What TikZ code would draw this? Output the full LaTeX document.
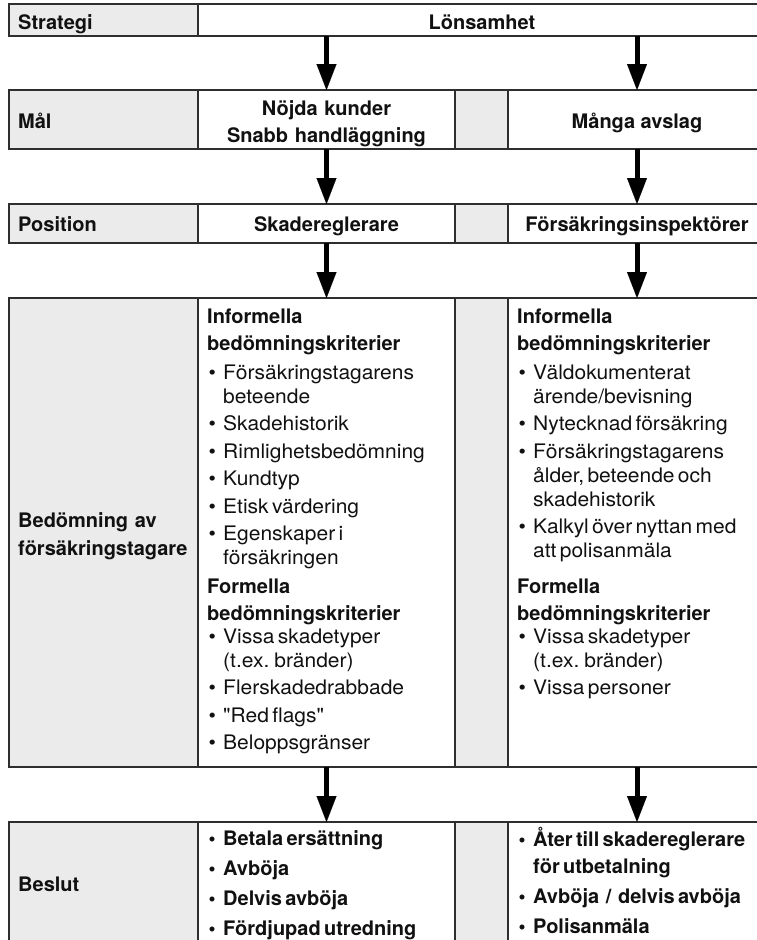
\documentclass[tikz,border=0pt]{standalone}
\usepackage{fontspec}
\setmainfont{TeX Gyre Heros}[Ligatures=TeXOff, UprightFeatures={FakeStretch=1.05}]
\usetikzlibrary{arrows.meta}
\definecolor{cellgray}{HTML}{EBEBEB}
\definecolor{linegray}{HTML}{2E2E2E}
\definecolor{txt}{HTML}{111111}
\newcommand{\bitem}[1]{\hangindent=16pt\hangafter=1\noindent\makebox[16pt][l]{\hspace{1.5pt}\textbullet}#1\par}
\newcommand{\blockstart}[2]{\setlength{\parskip}{#2}\fontsize{20}{#1}\selectfont\raggedright}
\tikzset{
  cell/.style={draw=linegray, line width=1.3pt, fill=white, inner sep=0pt, outer sep=0pt},
  graycell/.style={cell, fill=cellgray},
  lab/.style={inner sep=0pt, text=txt, font=\fontsize{20}{24}\selectfont\bfseries},
  block/.style={inner sep=0pt, text=txt, text width=245pt, anchor=base west},
  flow/.style={draw=black, line width=5pt, -{Triangle[width=20pt,length=26pt,line width=0.1pt]}}
}
\begin{document}
\begin{tikzpicture}[x=1pt,y=-1pt]
\useasboundingbox (0,0) rectangle (757,940);
\clip (0,0) rectangle (757,940);
% ---- Strategi
\node[graycell, minimum width=189pt, minimum height=32pt] (strat-l) at (103.5,20) {};
\node[cell, minimum width=568pt, minimum height=32pt] (strat-r) at (482,20) {};
% ---- Mal
\node[graycell, minimum width=189pt, minimum height=59pt] (mal-l) at (103.5,119.5) {};
\node[cell, minimum width=257pt, minimum height=59pt] (mal-m) at (326.5,119.5) {};
\node[graycell, minimum width=53pt, minimum height=59pt] (mal-g) at (481.5,119.5) {};
\node[cell, minimum width=258pt, minimum height=59pt] (mal-r) at (637,119.5) {};
% ---- Position
\node[graycell, minimum width=189pt, minimum height=39pt] (pos-l) at (103.5,223.5) {};
\node[cell, minimum width=257pt, minimum height=39pt] (pos-m) at (326.5,223.5) {};
\node[graycell, minimum width=53pt, minimum height=39pt] (pos-g) at (481.5,223.5) {};
\node[cell, minimum width=258pt, minimum height=39pt] (pos-r) at (637,223.5) {};
% ---- Bedomning
\node[graycell, minimum width=189pt, minimum height=469pt] (bed-l) at (103.5,532.5) {};
\node[cell, minimum width=257pt, minimum height=469pt] (bed-m) at (326.5,532.5) {};
\node[graycell, minimum width=53pt, minimum height=469pt] (bed-g) at (481.5,532.5) {};
\node[cell, minimum width=258pt, minimum height=469pt] (bed-r) at (637,532.5) {};
% ---- Beslut
\node[graycell, minimum width=189pt, minimum height=124pt] (bes-l) at (103.5,884) {};
\node[cell, minimum width=257pt, minimum height=124pt] (bes-m) at (326.5,884) {};
\node[graycell, minimum width=53pt, minimum height=124pt] (bes-g) at (481.5,884) {};
\node[cell, minimum width=258pt, minimum height=124pt] (bes-r) at (637,884) {};

% ---- arrows
\draw[flow] (mal-m.north |- strat-r.south) -- (mal-m.north);
\draw[flow] (mal-r.north |- strat-r.south) -- (mal-r.north);
\draw[flow] (mal-m.south) -- (pos-m.north);
\draw[flow] (mal-r.south) -- (pos-r.north);
\draw[flow] (pos-m.south) -- (bed-m.north);
\draw[flow] (pos-r.south) -- (bed-r.north);
\draw[flow] (bed-m.south) -- (bes-m.north);
\draw[flow] (bed-r.south) -- (bes-r.north);

% ---- texts
\node[lab, anchor=base west] (t-strat) at (18,29) {Strategi};
\node[lab, anchor=base] (t-lons) at (482,29) {Lönsamhet};
\node[lab, anchor=base west] (t-mal) at (18,128) {Mål};
\node[lab, anchor=base, text width=257pt, align=center, font=\fontsize{20}{27}\selectfont\bfseries] (t-nojda) at (326.5,115) {Nöjda kunder\\Snabb handläggning};
\node[lab, anchor=base] (t-manga) at (637,128) {Många avslag};
\node[lab, anchor=base west] (t-pos) at (18,231.5) {Position};
\node[lab, anchor=base] (t-skade) at (326.5,231.5) {Skadereglerare};
\node[lab, anchor=base] (t-insp) at (637,231.5) {Försäkringsinspektörer};
\node[lab, anchor=base west, text width=185pt, align=left, font=\fontsize{20}{28}\selectfont\bfseries] (t-bed) at (18,527) {Bedömning av\\försäkringstagare};
\node[lab, anchor=base west] (t-bes) at (18,891.5) {Beslut};

\node[block] (inf-m) at (207,323) {\blockstart{24}{3.5pt}%
{\bfseries\fontsize{20}{27}\selectfont Informella\newline bedömningskriterier\par}%
\vspace{1.5pt}%
\bitem{Försäkringstagarens\newline beteende}%
\bitem{Skadehistorik}%
\bitem{Rimlighetsbedömning}%
\bitem{Kundtyp}%
\bitem{Etisk värdering}%
\bitem{Egenskaper i\newline försäkringen}};

\node[block] (form-m) at (207,593) {\blockstart{24}{3.5pt}%
{\bfseries\fontsize{20}{27}\selectfont Formella\newline bedömningskriterier\par}%
\vspace{-4.5pt}%
\bitem{Vissa skadetyper\newline (t.ex. bränder)}%
\bitem{Flerskadedrabbade}%
\bitem{"Red flags"}%
\bitem{Beloppsgränser}};

\node[block] (inf-r) at (517,323) {\blockstart{24}{3.5pt}%
{\bfseries\fontsize{20}{27}\selectfont Informella\newline bedömningskriterier\par}%
\vspace{1.5pt}%
\bitem{Väldokumenterat\newline ärende/bevisning}%
\bitem{Nytecknad försäkring}%
\bitem{Försäkringstagarens\newline ålder, beteende och\newline skadehistorik}%
\bitem{Kalkyl över nyttan med\newline att polisanmäla}};

\node[block] (form-r) at (517,593) {\blockstart{24}{3.5pt}%
{\bfseries\fontsize{20}{27}\selectfont Formella\newline bedömningskriterier\par}%
\vspace{-4.5pt}%
\bitem{Vissa skadetyper\newline (t.ex. bränder)}%
\bitem{Vissa personer}};

\node[block] (bes-mt) at (207,845) {\blockstart{27}{3pt}\bfseries
\bitem{Betala ersättning}%
\bitem{Avböja}%
\bitem{Delvis avböja}%
\bitem{Fördjupad utredning}};

\node[block] (bes-rt) at (517,846) {\blockstart{27}{3pt}\bfseries
\bitem{Åter till skadereglerare\newline för utbetalning}%
\bitem{Avböja \,/\, delvis avböja}%
\bitem{Polisanmäla}};
\end{tikzpicture}
\end{document}
